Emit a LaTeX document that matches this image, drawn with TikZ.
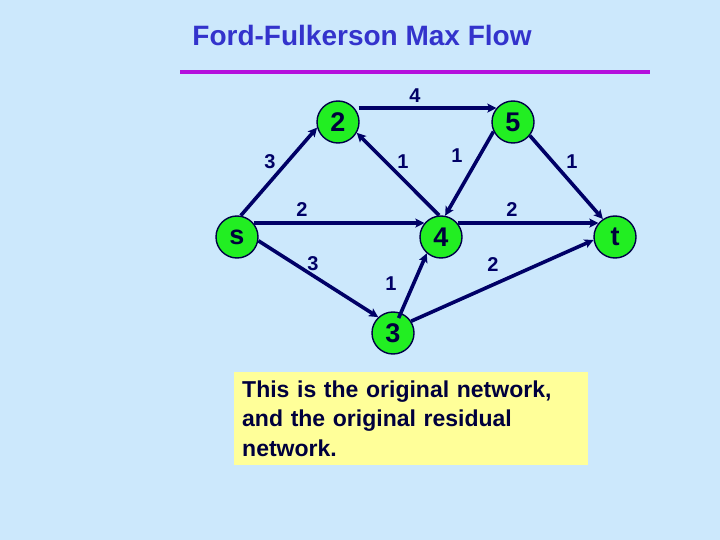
\documentclass[tikz,border=0pt]{standalone}
\usepackage{fontspec}
\setmainfont{Liberation Sans}
\usepackage{tikz}
\usetikzlibrary{positioning, arrows.meta}

\definecolor{slidebg}{RGB}{204,232,252}
\definecolor{nodegreen}{RGB}{34,238,34}
\definecolor{edgenavy}{RGB}{0,0,102}
\definecolor{titleblue}{RGB}{51,51,204}
\definecolor{rulepurple}{RGB}{180,16,220}
\definecolor{noteyellow}{RGB}{255,255,153}

\tikzset{
  vertex/.style={circle, draw=edgenavy!70!black, line width=1.4pt, fill=nodegreen,
    minimum size=42pt, inner sep=0pt, font=\fontsize{27}{27}\selectfont\bfseries, text=edgenavy!60!black},
  flow/.style={draw=edgenavy, line width=3.6pt, -{Stealth[length=9pt,width=9pt,inset=2pt]}},
  capacity/.style={font=\fontsize{20}{20}\selectfont\bfseries, text=edgenavy, inner sep=0pt}
}

\begin{document}
\begin{tikzpicture}[x=1pt, y=-1pt]
  \useasboundingbox[fill=slidebg] (0,0) rectangle (720,540);

  % Title and rule
  \node[font=\fontsize{28}{28}\selectfont\bfseries, text=titleblue] (title) at (362,35) {Ford-Fulkerson Max Flow};
  \draw[rulepurple, line width=4.5pt] (180,72) -- (650,72);

  % Vertices
  \node[vertex] (s) at (237,237) {s};
  \node[vertex] (n2) at (338,122) {2};
  \node[vertex] (n5) at (513,122) {5};
  \node[vertex] (n4) at (441,237) {4};
  \node[vertex] (t) at (615,237) {t};
  \node[vertex] (n3) at (393,333) {3};

  % Edges
  \draw[flow] (s.80) -- (n2.195);
  \draw[flow] ([xshift=4pt]n2.40) -- (n5.140);
  \draw[flow] (n4.95) -- (n2.-30);
  \draw[flow] (n5.206) -- (n4.79);
  \draw[flow] (n5.-39) -- (t.124);
  \draw[flow] (s.40) -- (n4.140);
  \draw[flow] (n4.40) -- (t.140);
  \draw[flow] (s.-10) -- (n3.133);
  \draw[flow] ([yshift=-6pt]n3.75) -- (n4.229);
  \draw[flow] (n3.33) -- (t.188);

  % Capacities
  \node[capacity] (c25) at (415,96) {4};
  \node[capacity] (cs2) at (270,162) {3};
  \node[capacity] (c42) at (403,162) {1};
  \node[capacity] (c54) at (457,156) {1};
  \node[capacity] (c5t) at (572,162) {1};
  \node[capacity] (cs4) at (302,210) {2};
  \node[capacity] (c4t) at (512,210) {2};
  \node[capacity] (cs3) at (313,264) {3};
  \node[capacity] (c34) at (391,284) {1};
  \node[capacity] (c3t) at (493,265) {2};

  % Note
  \node[fill=noteyellow, anchor=north west, minimum width=354pt, minimum height=93pt,
    inner xsep=8pt, inner ysep=6pt, align=left, text=edgenavy!60!black,
    font=\fontsize{23}{29.5}\selectfont\bfseries, text width=338pt] (note) at (234,372)
    {This is the original network,\\and the original residual\\network.};
\end{tikzpicture}
\end{document}
